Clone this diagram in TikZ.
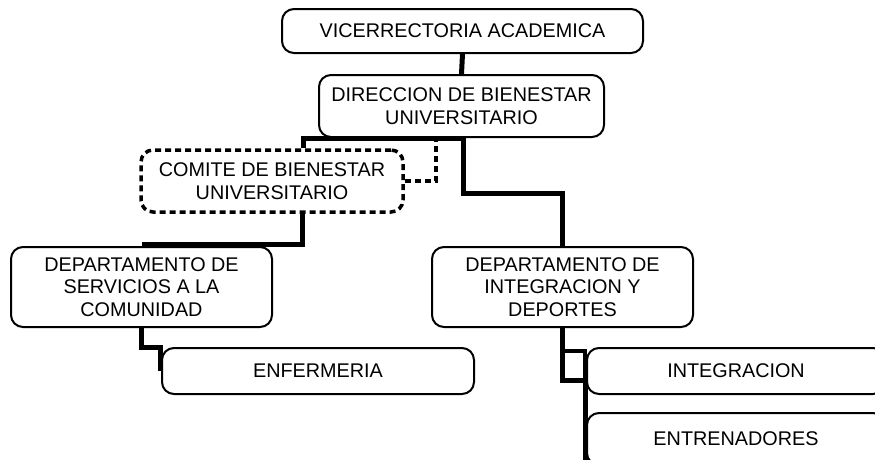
\documentclass[tikz,border=0pt]{standalone}
\usepackage{fontspec}
\setmainfont{Liberation Sans}
\tikzset{
  box/.style={draw, line width=2pt, rounded corners=12pt, inner sep=0pt, align=center,
    font=\fontsize{19.8}{22.8}\selectfont},
  dbox/.style={box, line width=3.5pt, dash pattern=on 6pt off 4pt},
  conn/.style={line width=5pt},
  thinconn/.style={line width=3.5pt},
  dconn/.style={line width=3.5pt, dash pattern=on 6pt off 4pt},
}
\begin{document}
\begin{tikzpicture}[x=1pt, y=-1pt]
\useasboundingbox (0,0) rectangle (875,459);
\clip (0,0) rectangle (875,459);
\node[box, minimum width=361pt, minimum height=44pt] (vice) at (462.5,31) {VICERRECTORIA ACADEMICA};
\node[box, minimum width=285pt, minimum height=62pt] (dir) at (461.5,106) {DIRECCION DE BIENESTAR\\UNIVERSITARIO};
\node[dbox, minimum width=262pt, minimum height=62pt] (com) at (272,181) {COMITE DE BIENESTAR\\UNIVERSITARIO};
\node[box, minimum width=261pt, minimum height=80pt] (serv) at (141.5,287) {DEPARTAMENTO DE\\SERVICIOS A LA\\COMUNIDAD};
\node[box, minimum width=261pt, minimum height=80pt] (dep) at (562.5,287) {DEPARTAMENTO DE\\INTEGRACION Y\\DEPORTES};
\node[box, minimum width=312pt, minimum height=46pt] (enf) at (318,371) {ENFERMERIA};
\node[box, minimum width=298pt, minimum height=46pt] (integ) at (736,371) {INTEGRACION};
\node[box, minimum width=298pt, minimum height=52pt] (entr) at (736,439) {ENTRENADORES};

\draw[conn] (vice.south) -- (dir.north);
\draw[conn] ([xshift=31pt]com.north) |- ([xshift=1.5pt]dir.south) -- ++(0,55) -| (dep.north);
\draw[dconn] (com.east) -- ++(31,0) -- ++(0,-43);
\draw[conn] ([xshift=30pt]com.south) |- ([yshift=2pt]serv.north);
\draw[conn] (serv.south) |- ([xshift=-1pt]enf.north west) -- ([xshift=-1pt]enf.west);
\draw[conn] (dep.south) |- ([xshift=-1pt,yshift=-9pt]integ.west) -- ([xshift=-1pt]entr.south west);
\draw[thinconn] ([yshift=-23pt]dep.south) -| ([xshift=-1pt,yshift=-9pt]integ.west);
\end{tikzpicture}
\end{document}
